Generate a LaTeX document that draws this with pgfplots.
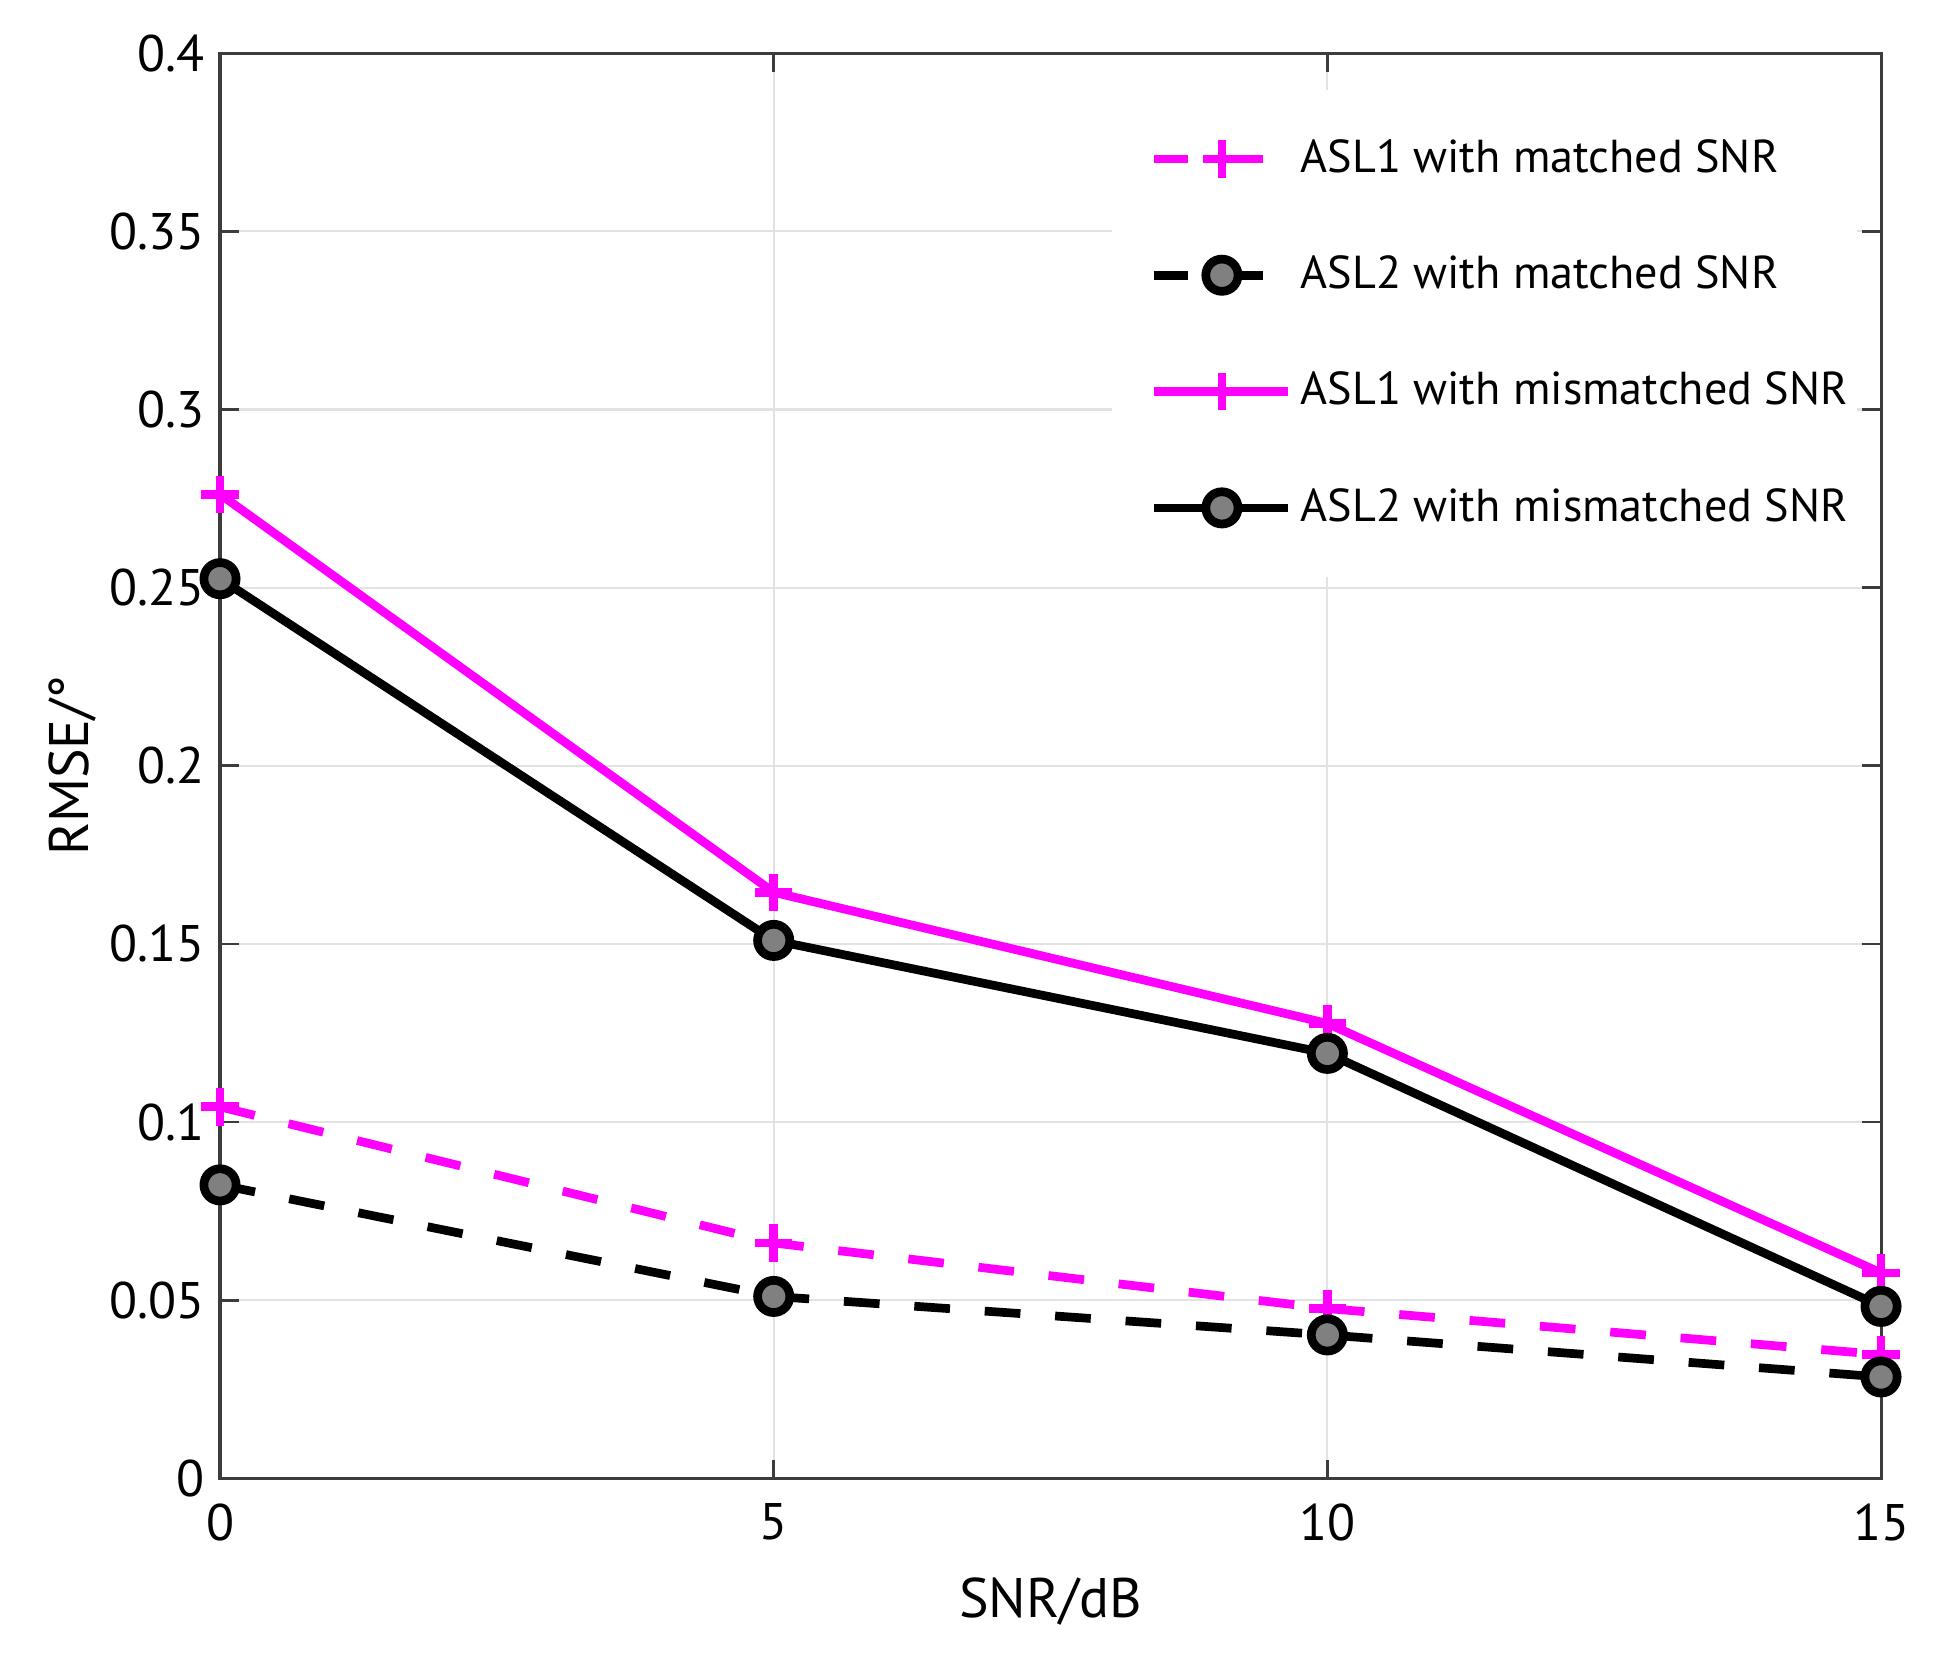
\documentclass[border=0pt]{standalone}
\usepackage{fontspec}
\setmainfont{PT Sans}
\usepackage{pgfplots}
\pgfplotsset{compat=1.18}

\definecolor{mag}{RGB}{255,0,255}
\definecolor{mkgray}{RGB}{128,128,128}
\definecolor{gridgray}{RGB}{226,226,226}
\definecolor{axgray}{RGB}{60,60,60}

\begin{document}
\begin{tikzpicture}
\begin{axis}[
    scale only axis,
    width=13.4cm, height=11.5cm,
    xmin=0, xmax=15,
    ymin=0, ymax=0.4,
    xtick={0,5,10,15},
    ytick={0,0.05,0.1,0.15,0.2,0.25,0.3,0.35,0.4},
    yticklabel style={/pgf/number format/fixed, /pgf/number format/precision=2},
    /pgf/number format/assume math mode=true,
    ticklabel style={font=\fontsize{11.8}{13}\selectfont},
    xticklabel style={yshift=-0.08cm},
    tick align=inside,
    major tick length=0.15cm,
    tick style={axgray, line width=0.6pt},
    axis line style={axgray, line width=0.7pt},
    grid=major,
    major grid style={gridgray, line width=0.5pt},
    clip=false,
    xlabel={SNR/dB},
    ylabel={RMSE/°},
    label style={font=\fontsize{12.8}{14}\selectfont},
    xlabel style={at={(axis description cs:0.5,-0.0975)}, anchor=base},
    ylabel style={at={(axis description cs:-0.0789,0.5)}, anchor=base, rotate=0},
    legend style={draw=none, fill=white, at={(0.5366,0.975)}, anchor=north west,
        row sep=0.48cm, inner xsep=0pt, inner ysep=0.33cm,
        font=\fontsize{10.6}{12}\selectfont},
    legend cell align=left,
]
\addplot[color=mag, line width=2pt, dash pattern=on 8.2pt off 8pt,
    mark=+, mark size=4.3pt, mark options={solid, line width=2pt},
    legend image code/.code={
        \path (-0.3cm,0cm);
        \draw[solid] (0cm,0cm) -- (0.28cm,0cm) (0.45cm,0cm) -- (0.88cm,0cm);
        \draw[solid] plot coordinates {(0.55cm,0cm)};
        \path (1.08cm,0cm);
    }]
    coordinates {(0,0.1043) (5,0.0661) (10,0.0477) (15,0.0348)};
\addlegendentry{ASL1 with matched SNR}
\addplot[color=black, line width=2pt, dash pattern=on 8.2pt off 8pt,
    mark=*, mark size=3.7pt, mark options={solid, fill=mkgray, draw=black, line width=2pt},
    legend image code/.code={
        \path (-0.3cm,0cm);
        \draw[solid] (0cm,0cm) -- (0.28cm,0cm) (0.45cm,0cm) -- (0.88cm,0cm);
        \draw[solid] plot coordinates {(0.55cm,0cm)};
        \path (1.08cm,0cm);
    }]
    coordinates {(0,0.0824) (5,0.0511) (10,0.0403) (15,0.0285)};
\addlegendentry{ASL2 with matched SNR}
\addplot[color=mag, line width=2pt,
    mark=+, mark size=4.3pt, mark options={solid, line width=2pt},
    legend image code/.code={
        \path (-0.3cm,0cm);
        \draw (0cm,0cm) -- (1.08cm,0cm);
        \draw plot coordinates {(0.55cm,0cm)};
    }]
    coordinates {(0,0.2762) (5,0.1645) (10,0.1277) (15,0.0577)};
\addlegendentry{ASL1 with mismatched SNR}
\addplot[color=black, line width=2pt,
    mark=*, mark size=3.7pt, mark options={solid, fill=mkgray, draw=black, line width=2pt},
    legend image code/.code={
        \path (-0.3cm,0cm);
        \draw (0cm,0cm) -- (1.08cm,0cm);
        \draw plot coordinates {(0.55cm,0cm)};
    }]
    coordinates {(0,0.2525) (5,0.1510) (10,0.1193) (15,0.0483)};
\addlegendentry{ASL2 with mismatched SNR}
\end{axis}
\path (current axis.south west) ++(-1.775cm,-1.557cm);
\path (current axis.north east) ++(0.492cm,0.428cm);
\end{tikzpicture}
\end{document}
